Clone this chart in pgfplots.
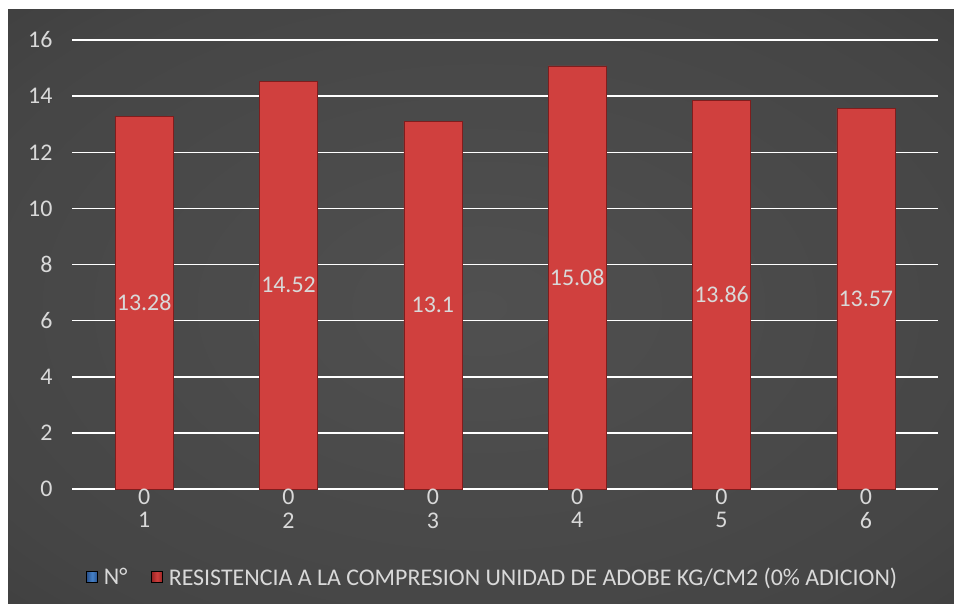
\documentclass[border=0pt]{standalone}
\usepackage{pgfplots}
\pgfplotsset{compat=1.18}
\usepackage{pgfplotstable}
\usepackage{fontspec}
\setmainfont{Carlito}
\definecolor{txt}{RGB}{217,217,217}
\definecolor{bgmid}{RGB}{80,80,80}
\definecolor{bgdark}{RGB}{36,36,36}
\definecolor{bm}{RGB}{208,64,62}
\definecolor{bd}{RGB}{150,34,34}
\definecolor{bluem}{RGB}{70,130,200}
\definecolor{blued}{RGB}{40,80,140}
\pgfdeclareradialshading{bgshade}{\pgfpoint{0bp}{0bp}}{color(0bp)=(bgmid); color(30bp)=(bgmid!75!bgdark); color(72bp)=(bgdark)}
\pgfdeclarehorizontalshading{barshade}{100bp}{color(0bp)=(bd); color(8bp)=(bm); color(92bp)=(bm); color(100bp)=(bd)}
\pgfplotstableread{
x y
1 13.28
2 14.52
3 13.1
4 15.08
5 13.86
6 13.57
}\datatable
\newcommand{\lf}{\fontsize{24}{24}\selectfont}
\begin{document}
\begin{tikzpicture}[x=1bp,y=1bp]
\fill[white] (0,0) rectangle (954,-604);
\shade[shading=bgshade] (8,-10) rectangle (954,-604);
\begin{axis}[
  at={(72bp,-489bp)}, anchor=south west,
  scale only axis, width=866bp, height=449bp,
  xmin=0.5, xmax=6.5, ymin=0, ymax=16,
  ytick={0,2,...,16}, xtick={1,...,6},
  axis y line*=left, axis x line*=bottom,
  y axis line style={draw=none},
  x axis line style={white, line width=1.5bp, -},
  ymajorgrids, grid style={white, line width=1.5bp},
  major tick length=0pt,
  /pgf/number format/assume math mode=true,
  ticklabel style={font=\lf, text=txt},
  yticklabel style={xshift=-16bp},
  xticklabel style={yshift=-20bp},
  legend columns=2,
  legend style={at={(0.486,-0.196)}, anchor=center, draw=none, fill=none,
    font=\lf, text=txt,
    /tikz/every even column/.append style={column sep=22bp}},
  legend image code/.code={\shade[#1] (0bp,-5.5bp) rectangle (11bp,5.5bp); \path (15bp,0bp);},
  clip=false,
]
\addlegendimage{left color=blued, right color=blued, middle color=bluem}
\addlegendentry{N°}
\addlegendimage{left color=bd, right color=bd, middle color=bm}
\addlegendentry{RESISTENCIA A LA COMPRESION UNIDAD DE ADOBE KG/CM2 (0\% ADICION)}
\addplot[ybar, bar width=58bp, bar shift=0pt, draw=bd!85!black, line width=0.6bp, shading=barshade, forget plot]
  table[x=x, y=y] {\datatable};
\addplot[draw=none, mark=none, forget plot, nodes near coords, point meta=explicit symbolic,
  every node near coord/.append style={anchor=center, text=txt, font=\lf}]
  table[x=x, y expr=\thisrow{y}/2, meta=y] {\datatable};
\addplot[draw=none, mark=none, forget plot, nodes near coords, point meta=explicit symbolic,
  every node near coord/.append style={anchor=center, yshift=-8bp, text=txt, font=\lf}]
  coordinates {(1,0) [0] (2,0) [0] (3,0) [0] (4,0) [0] (5,0) [0] (6,0) [0]};
\end{axis}
\end{tikzpicture}
\end{document}
